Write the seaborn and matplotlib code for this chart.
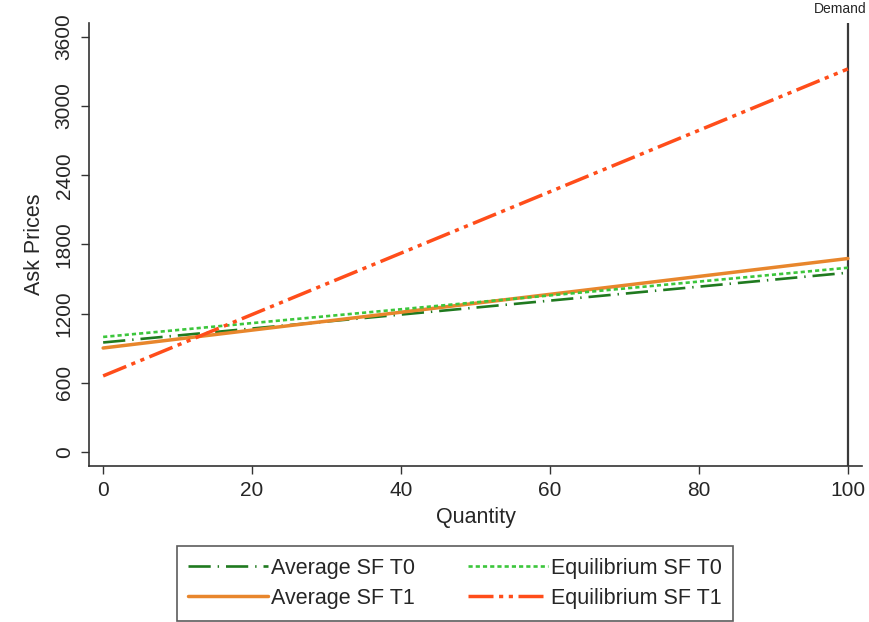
import numpy as np
import pandas as pd
import matplotlib
matplotlib.use("Agg")
import matplotlib.pyplot as plt
import seaborn as sns

# straight supply schedules at both ends
quantity = [0, 100]
avg_sf_t0 = [950, 1555]
eq_sf_t0 = [998, 1598]
avg_sf_t1 = [902, 1678]
eq_sf_t1 = [660, 3322]
demand_q = 100

series_names = ["Average SF T0", "Average SF T1", "Equilibrium SF T0", "Equilibrium SF T1"]
y_ticks = [0, 600, 1200, 1800, 2400, 3000, 3600]
x_ticks = [0, 20, 40, 60, 80, 100]

sns.set_style("ticks")
plt.rcParams['font.family'] = ['Liberation Sans', 'DejaVu Sans']
plt.rcParams['lines.scale_dashes'] = False

df = pd.DataFrame({
    "Quantity": quantity * 4,
    "Ask Prices": avg_sf_t0 + avg_sf_t1 + eq_sf_t0 + eq_sf_t1,
    "series": np.repeat(series_names, len(quantity)),
})

styles = {
    "Average SF T0": dict(color="#1f7a1f", lw=1.9, dashes=(16, 5, 1, 5)),
    "Average SF T1": dict(color="#e8862c", lw=2.5, dashes=None),
    "Equilibrium SF T0": dict(color="#3cc63c", lw=1.9, dashes=(3, 2.2)),
    "Equilibrium SF T1": dict(color="#ff4d1a", lw=2.5, dashes=(18, 4, 3, 4, 3, 4)),
}

fs = 15.5

fig = plt.figure(figsize=(8.69, 6.22), dpi=100)
ax = fig.add_axes([0.1024, 0.251, 0.8896, 0.712])

handles = []
for name in series_names:
    st = styles[name]
    sub = df[df["series"] == name]
    sns.lineplot(data=sub, x="Quantity", y="Ask Prices", ax=ax, color=st["color"],
                 linewidth=st["lw"], label=name, legend=False)
    line = ax.lines[-1]
    if st["dashes"] is not None:
        line.set_dashes(st["dashes"])
    handles.append(line)

ax.axvline(demand_q, color="#3a3a3a", lw=1.6, zorder=1)
# label for the demand line, pushed left so it stays inside the figure
fig.text(0.997, 0.975, "Demand", ha="right", va="bottom", fontsize=10)

ax.set_xlim(-1.9, 101.9)
ax.set_ylim(-120, 3720)
ax.set_xticks(x_ticks)
ax.set_yticks(y_ticks)
ax.set_yticklabels([str(t) for t in y_ticks], rotation=90, va="center")
ax.tick_params(axis="both", labelsize=15, length=6, width=1, color="#333333", pad=5)
for s in ["left", "bottom"]:
    ax.spines[s].set_color("#333333")
    ax.spines[s].set_linewidth(1.2)
sns.despine(ax=ax)

ax.set_xlabel("Quantity", fontsize=fs, labelpad=5)
ax.set_ylabel("Ask Prices", fontsize=fs, labelpad=7)

leg = fig.legend(handles=handles, labels=series_names, ncol=2, loc="center",
                 bbox_to_anchor=(0.5236, 0.062), fontsize=fs, frameon=True,
                 fancybox=False, edgecolor="#333333", handlelength=3.7,
                 handletextpad=0.12, columnspacing=2.5, labelspacing=0.42,
                 borderpad=0.55)
leg.get_frame().set_linewidth(1.2)

fig.savefig("out.png", dpi=100)
